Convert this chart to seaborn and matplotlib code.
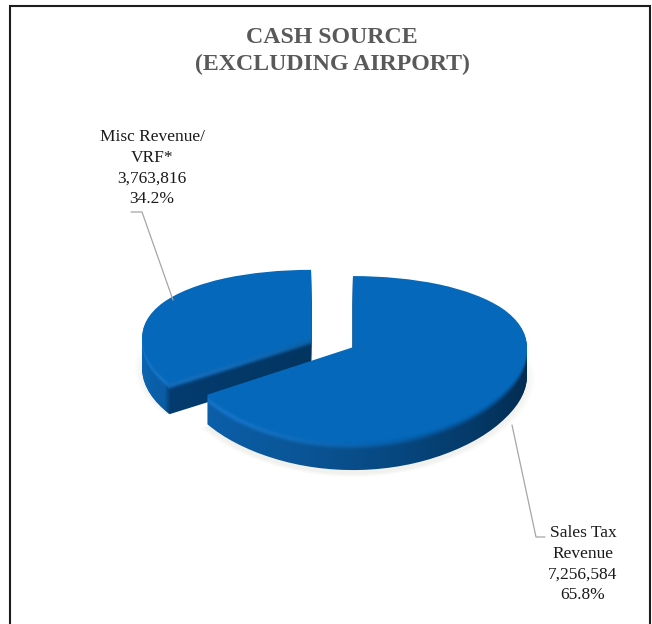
import numpy as np
import matplotlib
matplotlib.use("Agg")
import matplotlib.pyplot as plt
from matplotlib.colors import to_rgb
from matplotlib.lines import Line2D
from matplotlib.transforms import Affine2D, IdentityTransform
import seaborn as sns

# Cash sources, in dollars
sources = ["Misc Revenue/\nVRF*", "Sales Tax\nRevenue"]
amounts = [3763816, 7256584]
title = "CASH SOURCE\n(EXCLUDING AIRPORT)"

sns.set_theme(style="white")
plt.rcParams["font.family"] = ["Liberation Serif", "DejaVu Serif"]

W, H = 652, 624
fig = plt.figure(figsize=(W / 100, H / 100), dpi=100, facecolor="white")

# Pie centre and horizontal radius, in pixels
CX, CY, RX = 332, 342, 174
EXPLODE = 0.137

# Tilted disc: the near half of the pie is drawn deeper than the far half
PERSP_C, PERSP_B = 79.5, 0.136


def tilt(y):
    return PERSP_C * y / (1 + PERSP_B * y)


def untilt(p):
    return p / (PERSP_C - PERSP_B * p)


ax = fig.add_axes([0, 0, 1, 1])

TOP_BLUE = np.array(to_rgb("#0568ba"))
GLOW_BLUE = np.array(to_rgb("#1f82d8"))
columns = np.arange(W)


def hex_stops(stops):
    xs = [s[0] for s in stops]
    rgb = np.array([to_rgb(s[1]) for s in stops])
    return np.stack([np.interp(columns, xs, rgb[:, i]) for i in range(3)], axis=1)


# Side-wall colour across the width of the picture, one ramp per slice
wall_misc = hex_stops([(145, "#0b62ae"), (164, "#0a5ca4"), (170, "#043c70"), (311, "#033560")])
wall_sales = hex_stops([(211, "#0b5ea8"), (300, "#0a5596"), (400, "#07477f"),
                        (470, "#053a69"), (527, "#032c52")])


def layer_colors(wall, k):
    """Colour strip for the wall layer k pixels beneath the top face."""
    t = np.clip(k / 10, 0, 1)
    t = t * t * (3 - 2 * t)
    strip = TOP_BLUE * (1 - t) + wall * t
    glow = np.exp(-((k - 5) / 3.0) ** 2) * np.clip((430 - columns) / 200, 0, 1) * 0.55
    strip = strip * (1 - glow[:, None]) + GLOW_BLUE * glow[:, None]
    return strip[None, :, :]


def draw_pie(zorder, shift=0.0, colors=(TOP_BLUE, TOP_BLUE), alpha=None, grow=1.0):
    wedges, _ = ax.pie(amounts, explode=[EXPLODE, EXPLODE], startangle=90,
                       colors=list(colors), radius=1.0, center=(0, 0),
                       wedgeprops={"linewidth": 0, "zorder": zorder, "alpha": alpha})
    wedges[0].set_radius(0.97 * grow)
    wedges[1].set_radius(grow)
    for w in wedges:
        w.set_zorder(zorder)
        w.set_transform(ax.transData + Affine2D().translate(0, -shift))
    return wedges


# Soft ground shadow under the pie
for i, grow in enumerate(np.linspace(1.045, 1.0, 7)):
    draw_pie(1 + i * 0.01, shift=31 + i * 0.3, colors=("#c4b2a4", "#c4b2a4"), alpha=0.022, grow=grow)

# Side walls: stacked copies of each slice, deepest first, so the near slice covers the far one
depths = (33, 29)
walls = (wall_misc, wall_sales)
z = 2.0
for slice_index in (0, 1):
    for k in range(depths[slice_index], 0, -1):
        z += 0.01
        layer = draw_pie(z, shift=k)
        layer[1 - slice_index].set_visible(False)
        layer[slice_index].set_visible(False)
        im = ax.imshow(layer_colors(walls[slice_index], k), extent=(0, W, 0, H), aspect="auto",
                       interpolation="nearest", transform=IdentityTransform(), zorder=z)
        im.set_clip_path(layer[slice_index])
    # Top face of this slice
    z += 0.01
    tops = draw_pie(z)
    tops[1 - slice_index].set_visible(False)

ax.set_aspect("auto")
ax.set_yscale("function", functions=(tilt, untilt))
ax.set_xlim((0 - CX) / RX, (W - CX) / RX)
ax.set_ylim(untilt(CY - H), untilt(CY))
ax.axis("off")


def fx(px):
    return px / W


def fy(py):
    return 1 - py / H


# Outer frame, open at the bottom edge
frame = Line2D([fx(10), fx(10), fx(650), fx(650)], [0, fy(5.5), fy(5.5), 0],
               color="#1c1c1c", lw=1.5, transform=fig.transFigure, solid_joinstyle="miter")
fig.add_artist(frame)

fig.text(fx(332), fy(51), title, ha="center", va="center", color="#595959",
         fontsize=17.2, fontweight="bold", linespacing=1.34)

total = sum(amounts)
label_text = [f"{name}\n{v:,}\n{v / total:.1%}" for name, v in zip(sources, amounts)]
label_pos = [(152, 168), (583, 564)]
for text, (x, y) in zip(label_text, label_pos):
    fig.text(fx(x), fy(y), text, ha="center", va="center", color="#1a1a1a",
             fontsize=12.5, linespacing=1.39)

# Leader lines
leaders = [[(131, 212), (142, 212), (173, 300)],
           [(545, 537), (536, 537), (512, 425)]]
for pts in leaders:
    xs = [fx(p[0]) for p in pts]
    ys = [fy(p[1]) for p in pts]
    fig.add_artist(Line2D(xs, ys, color="#a6a6a6", lw=0.9, transform=fig.transFigure))

fig.savefig("out.png", dpi=100, facecolor="white")
